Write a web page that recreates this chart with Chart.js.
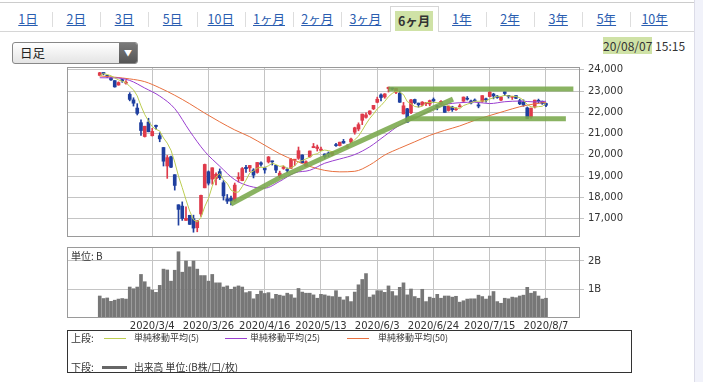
<!DOCTYPE html>
<html><head><meta charset="utf-8">
<script src="https://cdn.jsdelivr.net/npm/chart.js@4.4.1/dist/chart.umd.min.js"></script>
<style>
html,body{margin:0;padding:0;background:#fff;}
body{width:703px;height:382px;position:relative;overflow:hidden;font-family:"Noto Sans CJK JP","Noto Sans",sans-serif;color:#333;}
.abs{position:absolute;}
#topline{left:0;top:2px;width:694px;height:1px;background:#ccc;}
#rstrip{left:694px;top:0;width:9px;height:382px;background:#f1f2fa;border-left:1px solid #dcdce8;}
.tab{position:absolute;top:8px;height:22px;line-height:22px;font-size:12.5px;color:#2a5db0;text-decoration:underline;text-align:center;width:48px;}
.sep{position:absolute;top:12px;width:1px;height:15px;background:#ddd;}
#seltab{left:390px;top:6px;width:47px;height:25px;border:1px solid #d6d6d6;border-bottom:none;background:#fff;}
#seltab span{display:inline-block;margin-top:2px;background:#cfe2a6;color:#333;font-weight:bold;padding:0 3px;font-size:12.5px;line-height:20px;}
#dd{left:12px;top:42px;width:124px;height:20px;border:1px solid #888;border-radius:3px;background:linear-gradient(#ffffff,#e4e4e4);}
#dd .t{position:absolute;left:7px;top:0;line-height:20px;font-size:12.5px;color:#222;}
#dd .b{position:absolute;right:0;top:0;width:18px;height:20px;background:linear-gradient(#7a7a7a,#555);border-radius:0 2px 2px 0;color:#fff;font-size:8px;line-height:20px;text-align:center;}
#date{left:603px;top:38px;font-size:12px;line-height:16px;color:#333;}
#date span{background:#cfe2a6;}
#unit{left:71px;top:248px;font-size:10px;color:#333;z-index:2;}
#legend{left:67px;top:330px;width:563px;height:41px;border:1px solid #333;color:#333;}
.lg{position:absolute;font-size:9px;line-height:12px;white-space:nowrap;}
.ln{position:absolute;height:1px;width:22px;}
canvas{position:absolute;}
</style></head>
<body>
<div class="abs" id="topline"></div>
<div class="abs" id="rstrip"></div>
<div id="tabs"></div>
<div class="abs" id="dd"><span class="t">日足</span><span class="b">▼</span></div>
<div class="abs" id="date"><span>20/08/07</span> 15:15</div>
<div class="abs" style="left:0;top:57px;width:690px;height:189px;"><canvas id="pc"></canvas></div>
<div class="abs" style="left:0;top:237px;width:690px;height:97px;"><canvas id="vc"></canvas></div>
<div class="abs" id="unit">単位: B</div>
<div class="abs" id="legend">
  <span class="lg" style="left:3px;top:1px;font-size:10px;">上段:</span>
  <span class="ln" style="left:36px;top:7px;background:#bccd50;"></span>
  <span class="lg" style="left:66px;top:1px;">単純移動平均(5)</span>
  <span class="ln" style="left:157px;top:7px;background:#9a3fd0;"></span>
  <span class="lg" style="left:182px;top:1px;">単純移動平均(25)</span>
  <span class="ln" style="left:279px;top:7px;background:#e8703f;"></span>
  <span class="lg" style="left:310px;top:1px;">単純移動平均(50)</span>
  <span class="lg" style="left:3px;top:30px;font-size:10px;">下段:</span>
  <span class="ln" style="left:34px;top:35px;height:3px;width:25px;background:#666;"></span>
  <span class="lg" style="left:66px;top:30px;font-size:9.8px;">出来高 単位:(B株/口/枚)</span>
</div>
<script>
const tabLabels=["1日","2日","3日","5日","10日","1ヶ月","2ヶ月","3ヶ月","6ヶ月","1年","2年","3年","5年","10年"];
const selectedTab="6ヶ月";

const dates=["2020/2/12","2020/2/13","2020/2/14","2020/2/17","2020/2/18","2020/2/19","2020/2/20","2020/2/21","2020/2/25","2020/2/26","2020/2/27","2020/2/28",
"2020/3/2","2020/3/3","2020/3/4","2020/3/5","2020/3/6","2020/3/9","2020/3/10","2020/3/11","2020/3/12","2020/3/13","2020/3/16","2020/3/17","2020/3/18","2020/3/19","2020/3/23","2020/3/24","2020/3/25","2020/3/26","2020/3/27","2020/3/30","2020/3/31",
"2020/4/1","2020/4/2","2020/4/3","2020/4/6","2020/4/7","2020/4/8","2020/4/9","2020/4/10","2020/4/13","2020/4/14","2020/4/15","2020/4/16","2020/4/17","2020/4/20","2020/4/21","2020/4/22","2020/4/23","2020/4/24","2020/4/27","2020/4/28","2020/4/30",
"2020/5/1","2020/5/7","2020/5/8","2020/5/11","2020/5/12","2020/5/13","2020/5/14","2020/5/15","2020/5/18","2020/5/19","2020/5/20","2020/5/21","2020/5/22","2020/5/25","2020/5/26","2020/5/27","2020/5/28","2020/5/29",
"2020/6/1","2020/6/2","2020/6/3","2020/6/4","2020/6/5","2020/6/8","2020/6/9","2020/6/10","2020/6/11","2020/6/12","2020/6/15","2020/6/16","2020/6/17","2020/6/18","2020/6/19","2020/6/22","2020/6/23","2020/6/24","2020/6/25","2020/6/26","2020/6/29","2020/6/30",
"2020/7/1","2020/7/2","2020/7/3","2020/7/6","2020/7/7","2020/7/8","2020/7/9","2020/7/10","2020/7/13","2020/7/14","2020/7/15","2020/7/16","2020/7/17","2020/7/20","2020/7/21","2020/7/22","2020/7/27","2020/7/28","2020/7/29","2020/7/30","2020/7/31",
"2020/8/3","2020/8/4","2020/8/5","2020/8/6","2020/8/7"];

const open=[23734,23848,23707,23605,23491,23283,23536,23369,22842,22582,22198,21511,20859,21536,20897,21388,20900,20343,19474,19910,19064,17649,17586,16914,17154,16995,16570,17216,18446,19203,18858,18884,19210,18686,17934,17952,17857,18878,18788,19409,19380,19288,19171,19622,19382,19665,19695,19504,18985,19358,19285,19368,19747,19835,19991,19468,19908,20333,20299,20206,20038,20070,20016,20441,20434,20634,20360,20598,21060,21212,21622,21764,21921,22162,22470,22818,22720,23113,23143,22940,22902,21925,22166,21979,22601,22432,22342,22405,22388,22605,22280,22379,22285,22082,22254,22119,22251,22522,22658,22532,22578,22347,22517,22631,22738,22857,22759,22573,22963,22797,22704,22786,22547,22471,22208,21775,22248,22544,22520,22412];
const high=[23877,23860,23739,23660,23491,23432,23557,23491,22921,22682,22406,21647,21344,21719,21245,21399,21036,20347,19970,19938,19064,17649,17785,17557,17154,17160,16906,18100,19564,19241,19389,19149,19336,18784,18132,18059,18672,19162,19404,19508,19498,19347,19638,19673,19420,19922,19707,19504,19230,19478,19380,19832,19782,20365,20000,19720,20179,20534,20459,20367,20045,20133,20133,20539,20595,20725,20476,20784,21299,21504,21916,21977,22073,22325,22712,22864,22879,23185,23143,23124,22979,22465,22186,22607,22621,22433,22503,22473,22575,22673,22324,22549,22285,22288,22285,22217,22388,22723,22740,22576,22629,22451,22784,22673,22977,22894,22797,22735,22963,22797,22755,22786,22616,22585,22248,22202,22573,22619,22531,22435];
const low=[23714,23760,23635,23498,23180,23271,23408,23319,22537,22291,21873,20916,20834,21082,20882,21203,20613,19472,18891,19389,18339,16690,16914,16914,16726,16358,16378,17101,18446,18578,18613,18578,18834,17871,17707,17646,17802,18721,18776,19167,19210,18911,19133,19467,19134,19613,19518,19163,18917,19316,19178,19343,19500,19783,19619,19448,19875,20333,20176,20192,19834,19915,19960,20389,20415,20538,20328,20571,20968,21128,21419,21718,21878,22126,22444,22539,22660,22952,23053,22870,22464,21919,21530,21937,22399,22242,22301,22314,22304,22470,22114,22367,21995,22053,22042,22086,22251,22511,22572,22392,22503,22209,22468,22478,22720,22632,22657,22547,22785,22666,22601,22639,22358,22281,21710,21710,22201,22439,22372,22258];
const close=[23861,23827,23687,23523,23194,23400,23479,23386,22605,22426,21948,21142,21344,21082,21100,21329,20749,19698,19867,19416,18559,17431,17002,17011,16726,16552,16887,18092,19546,18664,19389,19084,18917,18065,17819,17820,18576,18950,19353,19345,19498,19043,19638,19550,19290,19897,19669,19280,19137,19429,19262,19783,19771,20193,19619,19674,20179,20390,20366,20267,19914,20037,20133,20433,20595,20552,20388,20741,21271,21419,21916,21877,22062,22325,22613,22695,22863,23178,23091,23124,22472,22305,21530,22582,22455,22355,22478,22437,22549,22534,22259,22512,21995,22288,22122,22145,22306,22714,22614,22438,22529,22291,22784,22587,22945,22770,22696,22717,22884,22751,22715,22657,22397,22339,21710,22195,22573,22514,22418,22329];
const volume=[0.75,0.66,0.68,0.56,0.60,0.64,0.66,0.64,1.07,1.01,1.07,1.52,1.26,1.07,0.96,0.88,1.13,1.71,1.68,1.28,1.67,2.33,1.60,2.00,1.79,2.00,1.71,1.48,1.48,1.28,1.52,1.22,1.22,1.07,1.11,0.99,1.07,1.11,1.07,0.87,0.91,0.65,0.81,0.93,0.84,0.87,0.65,0.81,0.78,0.75,0.85,0.80,0.68,1.02,0.89,0.85,0.85,0.79,0.67,0.81,0.79,0.75,0.73,0.94,0.71,0.61,0.73,0.55,0.89,1.15,1.34,1.55,0.71,0.79,0.94,0.94,0.88,1.11,0.91,0.76,1.06,1.22,0.79,1.00,0.73,0.67,0.99,0.55,0.71,0.67,0.81,0.67,0.75,0.75,0.71,0.74,0.53,0.58,0.64,0.65,0.65,0.78,0.73,0.64,0.75,0.91,0.55,0.49,0.67,0.65,0.71,0.69,0.75,0.78,1.06,0.85,0.91,0.75,0.64,0.67];
const ma5=[23713,23815,23777,23717,23618,23526,23457,23396,23213,23059,22769,22301,21893,21588,21323,21199,21121,20792,20549,20212,19658,18994,18455,17884,17346,16944,16836,17054,17561,17948,18516,18955,19120,18824,18655,18341,18239,18246,18504,18809,19144,19238,19375,19415,19404,19484,19609,19537,19455,19482,19355,19378,19476,19688,19726,19808,19887,20011,20046,20175,20223,20195,20143,20157,20222,20350,20420,20542,20709,20874,21147,21445,21709,21920,22159,22314,22512,22735,22888,22990,22946,22834,22504,22403,22269,22245,22280,22461,22455,22471,22451,22458,22370,22318,22235,22212,22171,22315,22380,22443,22520,22517,22531,22526,22627,22675,22756,22743,22802,22764,22753,22745,22681,22572,22364,22260,22243,22266,22282,22406];
const ma25Dates=["2020/2/12","2020/2/18","2020/2/25","2020/3/2","2020/3/6","2020/3/12","2020/3/18","2020/3/25","2020/3/31","2020/4/6","2020/4/10","2020/4/16","2020/4/22","2020/4/28","2020/5/8","2020/5/14","2020/5/20","2020/5/26","2020/6/1","2020/6/5","2020/6/11","2020/6/17","2020/6/23","2020/6/29","2020/7/3","2020/7/9","2020/7/15","2020/7/21","2020/7/29","2020/8/4","2020/8/7"];
const ma25=[23625,23619,23498,23141,22761,22173,21112,20159,19463,18829,18521,18432,18751,19151,19270,19603,19802,20011,20376,20892,21396,21703,22075,22356,22451,22475,22409,22496,22528,22486,22521];
const ma50Dates=ma25Dates;
const ma50=[23710,23650,23570,23440,23150,22800,22400,21960,21550,21170,20850,20450,20050,19734,19456,19267,19198,19224,19521,19988,20311,20611,20913,21149,21358,21622,21847,22056,22259,22396,22473];
// hand-drawn trend lines (day index from first date, price)
const trendUpA_x=[35,48], trendUpA_y=[17685,18917];
const trendUpB_x=[48,94.2], trendUpB_y=[18917,22620];
const resist_x=[77,126.3], resist_y=[23090,23090];
const support_x=[82,124.3], support_y=[21690,21690];
const priceTicks=[17000,18000,19000,20000,21000,22000,23000,24000];
const volTicks=[1,2];
const dateTicks=["2020/3/4","2020/3/26","2020/4/16","2020/5/13","2020/6/3","2020/6/24","2020/7/15","2020/8/7"];

// tabs
(function(){
  const wrap=document.getElementById('tabs');
  let html='';
  tabLabels.forEach((t,i)=>{
    const cx=28+48.2*i;
    if(t===selectedTab){
      html+='<div class="abs" id="seltab" style="left:'+(cx-24)+'px;text-align:center;"><span>'+t+'</span></div>';
    } else {
      html+='<div class="tab" style="left:'+(cx-24)+'px;">'+t+'</div>';
    }
    if(i<tabLabels.length-1 && t!==selectedTab && tabLabels[i+1]!==selectedTab) html+='<div class="sep" style="left:'+Math.round(cx+24)+'px;"></div>';
  });
  html+='<div class="abs" style="left:0;top:31px;width:'+(28+48.2*8-24)+'px;height:1px;background:#d6d6d6"></div>';
  html+='<div class="abs" style="left:'+(28+48.2*8+24)+'px;top:31px;width:'+(694-(28+48.2*8+24))+'px;height:1px;background:#d6d6d6"></div>';
  wrap.innerHTML=html;
})();

const idx=d=>dates.indexOf(d);
const UP='#df3a4a', DN='#1f3f9f';
const candleCol=close.map((c,i)=>c>=open[i]?UP:DN);
const XMIN=-8.73, XMAX=127.8;
const gridCol='#c4c4c4', borderCol='#9a9a9a';
const tickFont={family:'DejaVu Sans',size:10};
const trendCol='rgba(122,168,76,0.88)';

const frame={id:'frame',beforeDatasetsDraw(ch){const a=ch.chartArea,c=ch.ctx;c.save();c.strokeStyle=borderCol;c.lineWidth=1;c.strokeRect(Math.round(a.left)+0.5,Math.round(a.top)+0.5,Math.round(a.right-a.left),Math.round(a.bottom-a.top));c.restore();}};

const xTicksFn=s=>{s.ticks=dateTicks.map(d=>({value:idx(d)}));};

new Chart(document.getElementById('pc'),{
  type:'bar',
  data:{datasets:[
    {type:'bar',data:dates.map((d,i)=>({x:i,y:[low[i],high[i]]})),backgroundColor:candleCol,barThickness:1,grouped:false,order:6},
    {type:'bar',data:dates.map((d,i)=>({x:i,y:[open[i],close[i]]})),backgroundColor:candleCol,barThickness:3,minBarLength:1,grouped:false,order:5},
    {type:'line',data:ma50.map((v,i)=>({x:idx(ma50Dates[i]),y:v})),borderColor:'#e8703f',borderWidth:1,pointRadius:0,cubicInterpolationMode:'monotone',order:4},
    {type:'line',data:ma25.map((v,i)=>({x:idx(ma25Dates[i]),y:v})),borderColor:'#9a3fd0',borderWidth:1,pointRadius:0,cubicInterpolationMode:'monotone',order:3},
    {type:'line',data:ma5.map((v,i)=>({x:i,y:v})),borderColor:'#bccd50',borderWidth:1,pointRadius:0,order:2},
    {type:'line',data:trendUpA_x.map((x,i)=>({x,y:trendUpA_y[i]})),borderColor:trendCol,borderWidth:5,pointRadius:0,order:1},
    {type:'line',data:trendUpB_x.map((x,i)=>({x,y:trendUpB_y[i]})),borderColor:trendCol,borderWidth:5,pointRadius:0,order:1},
    {type:'line',data:resist_x.map((x,i)=>({x,y:resist_y[i]})),borderColor:trendCol,borderWidth:5,pointRadius:0,order:1},
    {type:'line',data:support_x.map((x,i)=>({x,y:support_y[i]})),borderColor:trendCol,borderWidth:5,pointRadius:0,order:1}
  ]},
  options:{responsive:true,maintainAspectRatio:false,animation:false,
    layout:{autoPadding:false,padding:{left:67,top:0,bottom:0,right:0}},
    plugins:{legend:{display:false},tooltip:{enabled:false}},
    scales:{
      x:{type:'linear',offset:false,min:XMIN,max:XMAX,afterBuildTicks:xTicksFn,ticks:{display:false},grid:{color:gridCol,drawTicks:false,offset:false},border:{display:false},afterFit:s=>{s.height=0;}},
      y:{type:'linear',position:'right',min:16180,max:24130,afterBuildTicks:s=>{s.ticks=priceTicks.map(v=>({value:v}));},
        ticks:{font:tickFont,color:'#333',padding:4,callback:v=>v.toLocaleString('en-US')},
        grid:{color:gridCol,tickLength:5},border:{display:false},afterFit:s=>{s.width=111;}}
    }
  },
  plugins:[frame]
});

new Chart(document.getElementById('vc'),{
  type:'bar',
  data:{datasets:[{data:dates.map((d,i)=>({x:i,y:volume[i]})),backgroundColor:'#777',barThickness:3}]},
  options:{responsive:true,maintainAspectRatio:false,animation:false,
    layout:{autoPadding:false,padding:{left:67,top:0,bottom:0,right:0}},
    plugins:{legend:{display:false},tooltip:{enabled:false}},
    scales:{
      x:{type:'linear',offset:false,min:XMIN,max:XMAX,afterBuildTicks:xTicksFn,
        ticks:{font:tickFont,color:'#333',padding:3,maxRotation:0,autoSkip:false,callback:v=>dates[v]},
        grid:{color:gridCol,drawTicks:false,offset:false},border:{display:false},afterFit:s=>{s.height=17;}},
      y:{type:'linear',position:'right',min:0,max:2.5,afterBuildTicks:s=>{s.ticks=volTicks.map(v=>({value:v}));},
        ticks:{font:tickFont,color:'#333',padding:4,callback:v=>v+'B'},
        grid:{color:gridCol,tickLength:5},border:{display:false},afterFit:s=>{s.width=111;}}
    }
  },
  plugins:[frame]
});
</script>
</body></html>
